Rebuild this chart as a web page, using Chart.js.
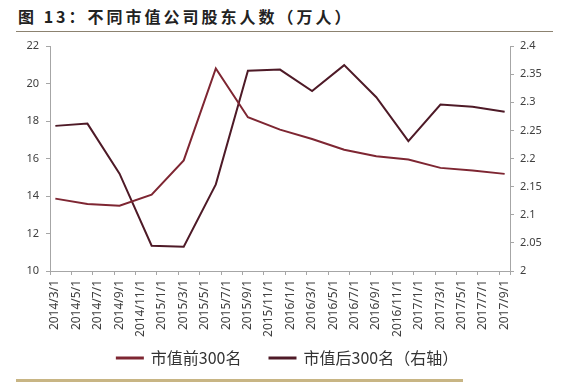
<!DOCTYPE html>
<html>
<head>
<meta charset="utf-8">
<script src="https://cdn.jsdelivr.net/npm/chart.js@4.4.0/dist/chart.umd.min.js"></script>
<style>
  body { margin: 0; background: #fff; }
  #wrap { position: relative; width: 575px; height: 387px; overflow: hidden; }
  #title {
    position: absolute; left: 18px; top: 4px;
    font-family: "Noto Sans CJK SC", sans-serif; font-weight: bold;
    font-size: 16px; letter-spacing: 3px; color: #222; white-space: nowrap;
  }
  #topRule { position: absolute; left: 16px; top: 31px; width: 537px; height: 1px; background: #8c8270; }
  #bottomRule { position: absolute; left: 16px; top: 379px; width: 447px; height: 3px; background: #c8b584; }
  canvas { position: absolute; left: 0; top: 0; }
</style>
</head>
<body>
<div id="wrap">
  <div id="title">图 13：不同市值公司股东人数（万人）</div>
  <div id="topRule"></div>
  <canvas id="chart" width="575" height="387"></canvas>
  <div id="bottomRule"></div>
</div>
<script>
// x axis tick labels (every two months)
const tickLabels = [
  "2014/3/1","2014/5/1","2014/7/1","2014/9/1","2014/11/1",
  "2015/1/1","2015/3/1","2015/5/1","2015/7/1","2015/9/1","2015/11/1",
  "2016/1/1","2016/3/1","2016/5/1","2016/7/1","2016/9/1","2016/11/1",
  "2017/1/1","2017/3/1","2017/5/1","2017/7/1","2017/9/1"
];
// data is quarterly
const dates = [
  "2014/3","2014/6","2014/9","2014/12",
  "2015/3","2015/6","2015/9","2015/12",
  "2016/3","2016/6","2016/9","2016/12",
  "2017/3","2017/6","2017/9"
];
const top300 = [13.86, 13.57, 13.48, 14.07, 15.9, 20.8, 18.2, 17.54, 17.04, 16.47, 16.12, 15.95, 15.5, 15.36, 15.18];
const bottom300 = [2.258, 2.262, 2.173, 2.045, 2.043, 2.154, 2.356, 2.358, 2.32, 2.366, 2.309, 2.231, 2.296, 2.292, 2.283];

// months since 2014/3
function monthIndex(d) {
  const [y, m] = d.split("/").map(Number);
  return (y - 2014) * 12 + (m - 3);
}
const toPoints = vals => vals.map((v, i) => ({ x: monthIndex(dates[i]), y: v }));

const tickFont = { family: "Noto Sans", size: 11 };
const axisColor = "#a6a6a6";

new Chart(document.getElementById("chart"), {
  type: "line",
  data: {
    datasets: [
      {
        label: "市值前300名",
        data: toPoints(top300),
        yAxisID: "y",
        borderColor: "#7e2632",
        backgroundColor: "#9a3a3c",
        borderWidth: 2,
        pointRadius: 0,
        tension: 0
      },
      {
        label: "市值后300名（右轴）",
        data: toPoints(bottom300),
        yAxisID: "y1",
        borderColor: "#4e1a27",
        backgroundColor: "#6a2438",
        borderWidth: 2,
        pointRadius: 0,
        tension: 0
      }
    ]
  },
  options: {
    responsive: false,
    animation: false,
    layout: { padding: { top: 46, left: 10, right: 10, bottom: 11 } },
    plugins: {
      tooltip: { enabled: false },
      legend: {
        position: "bottom",
        labels: {
          boxWidth: 26, boxHeight: 1,
          color: "#333",
          padding: 12,
          font: { family: "Noto Sans CJK SC", size: 16 },
          // a wider gap between the two entries, as in the original
          generateLabels: chart => Chart.defaults.plugins.legend.labels.generateLabels(chart)
            .map((item, i) => i === 0 ? { ...item, text: item.text + "\u3000" } : item)
        }
      }
    },
    scales: {
      x: {
        type: "linear",
        min: -0.5, max: 42.5,
        afterBuildTicks: s => {
          s.ticks = tickLabels.map((_, i) => ({ value: i * 2 - 0.5 })).concat([{ value: 42.5 }]);
        },
        afterFit: s => { s.height = 67; },
        border: { color: axisColor },
        grid: { drawOnChartArea: false, tickLength: 4, color: axisColor },
        ticks: {
          autoSkip: false, maxRotation: 90, minRotation: 90,
          labelOffset: 5, padding: 5,
          color: "#404040", font: { family: "Noto Sans", size: 12 },
          callback: (v, i) => tickLabels[i] || ""
        }
      },
      y: {
        position: "left",
        min: 10, max: 22,
        afterFit: s => { s.width = 40; },
        border: { color: axisColor },
        grid: { drawOnChartArea: false, tickLength: 4, color: axisColor },
        ticks: { stepSize: 2, padding: 7, color: "#404040", font: tickFont }
      },
      y1: {
        position: "right",
        min: 2, max: 2.4,
        afterFit: s => { s.width = 55; },
        border: { color: axisColor },
        grid: { drawOnChartArea: false, tickLength: 4, color: axisColor },
        ticks: {
          stepSize: 0.05, padding: 6, color: "#404040", font: tickFont,
          callback: v => String(+v.toFixed(2))
        }
      }
    }
  }
});
</script>
</body>
</html>
